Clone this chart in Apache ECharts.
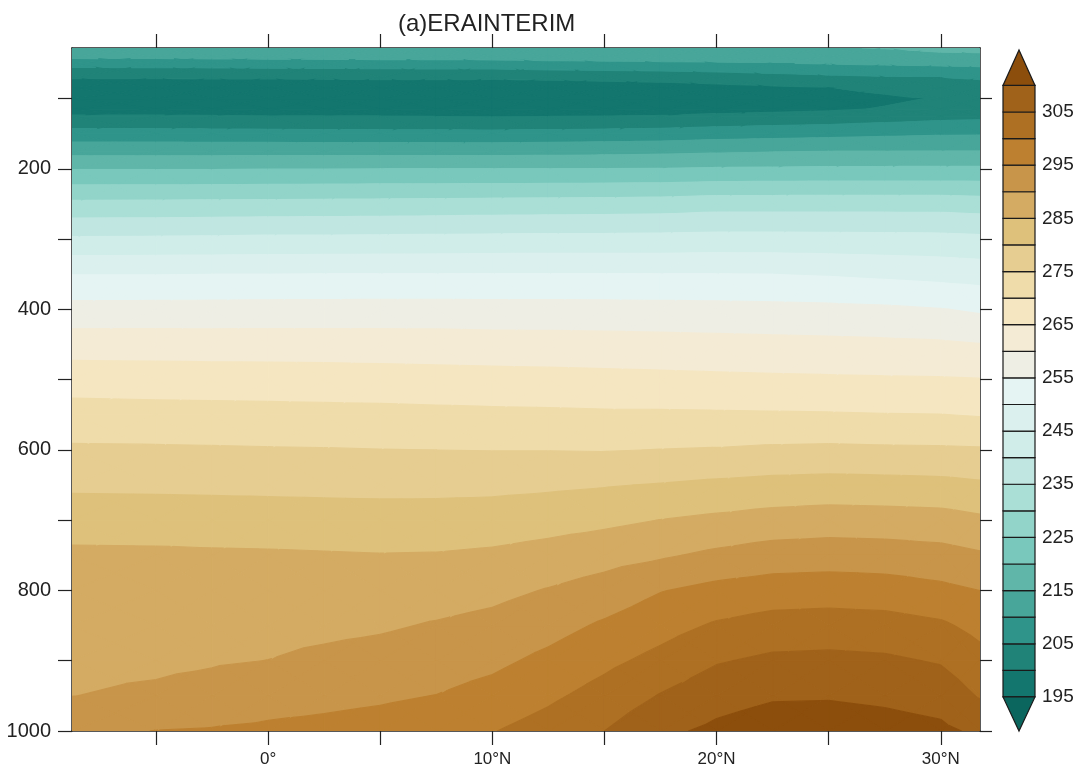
<!DOCTYPE html>
<html>
<head>
<meta charset="utf-8">
<script src="https://cdn.jsdelivr.net/npm/echarts@6/dist/echarts.min.js"></script>
<style>
html,body{margin:0;padding:0;background:#fff;}
#chart{width:1081px;height:772px;}
</style>
</head>
<body>
<div id="chart"></div>
<script>
// ---- data ----
const lats = [-8.75, -5, -2.5, 0, 2.5, 5, 7.5, 10, 12.5, 15, 17.5, 20, 22.5, 25, 27.5, 30, 31.75];
const pressureLevels = [28, 40, 50, 70, 85, 100, 115, 125, 150, 175, 200, 250, 300, 350, 400, 450, 500, 550, 600, 650, 700, 750, 800, 850, 900, 950, 1000];

const t0028 = [213.6, 213.6, 213.7, 213.8, 213.9, 214.0, 214.0, 214.1, 214.2, 214.3, 214.4, 214.6, 214.7, 214.85, 215.1, 215.6, 216.0];
const t0040 = [211.4, 211.3, 211.5, 211.7, 211.8, 212.0, 211.9, 212.1, 212.3, 212.4, 212.5, 212.9, 213.3, 213.7, 214.0, 214.4, 214.2];
const t0050 = [206.8, 207.0, 207.1, 207.3, 207.5, 207.6, 207.8, 207.9, 208.5, 208.8, 209.1, 209.3, 209.8, 210.3, 210.7, 211.1, 211.3];
const t0070 = [200.3, 200.3, 200.4, 200.4, 200.5, 200.6, 200.6, 200.6, 200.8, 201.1, 201.5, 202.1, 203.0, 203.9, 204.5, 205.0, 205.6];
const t0085 = [197.8, 197.7, 197.7, 197.6, 197.6, 197.6, 197.6, 197.5, 197.7, 197.9, 198.2, 198.6, 199.2, 199.9, 201.0, 202.0, 202.8];
const t0100 = [197.1, 197.0, 197.0, 196.9, 196.9, 196.8, 196.8, 196.7, 196.8, 197.0, 197.3, 197.6, 198.0, 198.4, 199.3, 200.3, 200.8];
const t0115 = [198.4, 198.4, 198.3, 198.2, 198.2, 198.1, 198.1, 198.0, 198.1, 198.2, 198.4, 198.5, 199.0, 199.4, 200.3, 201.3, 201.8];
const t0125 = [200.3, 200.3, 200.2, 200.0, 200.0, 200.0, 199.9, 199.8, 199.9, 200.0, 200.2, 200.8, 201.3, 201.8, 202.7, 203.5, 203.8];
const t0150 = [207.0, 206.9, 206.8, 206.7, 206.6, 206.5, 206.5, 206.4, 206.6, 206.8, 207.2, 207.8, 208.2, 208.6, 209.1, 209.5, 209.6];
const t0175 = [213.4, 213.4, 213.4, 213.4, 213.4, 213.4, 213.4, 213.4, 213.5, 213.7, 214.0, 214.4, 214.8, 215.0, 215.0, 215.1, 215.1];
const t0200 = [219.8, 219.8, 219.8, 219.9, 219.9, 220.0, 220.0, 220.0, 220.0, 220.1, 220.2, 220.5, 220.6, 220.8, 220.8, 220.8, 220.8];
const t0250 = [231.2, 231.3, 231.4, 231.5, 231.6, 231.7, 231.8, 232.0, 232.1, 232.2, 232.4, 233.0, 233.0, 233.0, 233.0, 233.0, 232.6];
const t0300 = [240.7, 240.8, 240.9, 241.1, 241.1, 241.2, 241.3, 241.4, 241.5, 241.5, 241.6, 241.8, 241.8, 241.7, 241.6, 241.5, 241.1];
const t0350 = [249.9, 249.9, 250.0, 250.0, 250.1, 250.1, 250.1, 250.2, 250.2, 250.2, 250.1, 250.1, 250.0, 249.6, 249.0, 248.4, 247.9];
const t0400 = [256.7, 256.75, 256.8, 256.9, 256.9, 257.0, 257.0, 256.9, 256.9, 256.8, 256.7, 256.6, 256.4, 256.2, 255.85, 255.2, 254.3];
const t0450 = [262.7, 262.7, 262.6, 262.6, 262.55, 262.5, 262.4, 262.2, 262.1, 262.0, 261.8, 261.6, 261.4, 261.2, 261.0, 260.7, 260.2];
const t0500 = [267.8, 267.6, 267.5, 267.4, 267.3, 267.1, 266.9, 266.75, 266.6, 266.4, 266.2, 266.0, 265.8, 265.65, 265.5, 265.4, 265.2];
const t0550 = [272.0, 271.8, 271.7, 271.6, 271.5, 271.4, 271.2, 271.0, 270.9, 270.7, 270.7, 270.6, 270.5, 270.4, 270.2, 270.1, 269.7];
const t0600 = [275.7, 275.6, 275.5, 275.35, 275.25, 275.1, 275.0, 274.9, 274.9, 274.8, 275.1, 275.35, 275.8, 276.0, 275.8, 275.7, 275.5];
const t0650 = [279.2, 279.1, 279.0, 278.9, 278.8, 278.7, 278.7, 278.8, 279.2, 279.7, 280.3, 281.0, 281.6, 281.9, 281.7, 281.4, 280.75];
const t0700 = [282.6, 282.5, 282.4, 282.3, 282.1, 282.0, 282.1, 282.4, 283.1, 283.9, 285.1, 286.0, 286.9, 287.4, 287.2, 286.9, 285.9];
const t0750 = [286.0, 285.9, 285.7, 285.6, 285.4, 285.2, 285.3, 285.8, 286.8, 288.1, 289.4, 291.0, 292.3, 292.65, 292.4, 291.7, 290.6];
const t0800 = [287.0, 287.0, 287.0, 287.1, 287.1, 287.3, 287.8, 288.7, 290.3, 292.1, 294.8, 296.5, 297.45, 297.7, 297.3, 296.15, 295.0];
const t0850 = [288.0, 288.1, 288.3, 288.6, 288.9, 289.4, 290.4, 291.4, 293.2, 295.7, 298.1, 300.6, 301.95, 302.3, 302.0, 300.8, 298.5];
const t0900 = [289.0, 289.2, 289.6, 290.05, 291.0, 291.8, 292.7, 293.9, 296.2, 298.8, 301.5, 304.6, 306.0, 306.2, 305.8, 304.6, 301.7];
const t0950 = [289.95, 290.7, 291.6, 292.97, 293.7, 294.3, 295.1, 296.7, 299.1, 301.9, 305.3, 308.2, 309.5, 309.6, 309.0, 308.0, 304.6];
const t1000 = [293.7, 295.1, 295.4, 295.9, 296.3, 296.9, 297.9, 299.8, 302.1, 305.0, 309.0, 311.0, 312.5, 312.7, 312.0, 311.0, 309.1];

const tempRows = [t0028, t0040, t0050, t0070, t0085, t0100, t0115, t0125, t0150, t0175, t0200, t0250, t0300, t0350,
  t0400, t0450, t0500, t0550, t0600, t0650, t0700, t0750, t0800, t0850, t0900, t0950, t1000];

const contourLevels = [195, 200, 205, 210, 215, 220, 225, 230, 235, 240, 245, 250, 255, 260, 265, 270, 275, 280, 285, 290, 295, 300, 305, 310];
const bandColors = ['#0b665e', '#13766e', '#208378', '#2f948a', '#48a69a', '#60b6a9', '#79c8bc', '#92d4c9', '#aadfd6',
  '#c0e6e1', '#d0ede9', '#dbf0ee', '#e5f4f3', '#eeeee4', '#f4ebd5', '#f5e6c1', '#efdcaa', '#e6cd91', '#dec17b',
  '#d4ab63', '#c8954a', '#bd8030', '#ae7023', '#a0621a', '#8c4e0c'];
const colorbarLabels = [195, 205, 215, 225, 235, 245, 255, 265, 275, 285, 295, 305];
const xTickValues = [-5, 0, 5, 10, 15, 20, 25, 30];
const xLabelValues = [0, 10, 20, 30];
const yTickValues = [100, 200, 300, 400, 500, 600, 700, 800, 900, 1000];
const yLabelValues = [200, 400, 600, 800, 1000];

// ---- helpers ----
function bandIndex(v) {
  let k = 0;
  while (k < contourLevels.length && v >= contourLevels[k]) k++;
  return k;
}
function clipPoly(poly, t, above) {
  const out = [];
  const n = poly.length;
  for (let i = 0; i < n; i++) {
    const a = poly[i], b = poly[(i + 1) % n];
    const ina = above ? a[2] >= t : a[2] <= t;
    const inb = above ? b[2] >= t : b[2] <= t;
    if (ina) out.push(a);
    if (ina !== inb) {
      const f = (t - a[2]) / (b[2] - a[2]);
      out.push([a[0] + f * (b[0] - a[0]), a[1] + f * (b[1] - a[1]), t]);
    }
  }
  return out;
}

function renderContour(params, api) {
  const children = [];
  const pt = (i, j) => {
    const c = api.coord([lats[i], pressureLevels[j]]);
    return [c[0], c[1], tempRows[j][i]];
  };
  for (let j = 0; j < pressureLevels.length - 1; j++) {
    for (let i = 0; i < lats.length - 1; i++) {
      const A = pt(i, j), B = pt(i + 1, j), C = pt(i + 1, j + 1), D = pt(i, j + 1);
      const E = [(A[0] + C[0]) / 2, (A[1] + C[1]) / 2, (A[2] + B[2] + C[2] + D[2]) / 4];
      const tris = [[A, B, E], [B, C, E], [C, D, E], [D, A, E]];
      for (const tri of tris) {
        const vs = tri.map(p => p[2]);
        const k0 = bandIndex(Math.min.apply(null, vs));
        const k1 = bandIndex(Math.max.apply(null, vs));
        for (let k = k0; k <= k1; k++) {
          let poly = tri;
          if (k > 0) poly = clipPoly(poly, contourLevels[k - 1], true);
          if (k < contourLevels.length && poly.length) poly = clipPoly(poly, contourLevels[k], false);
          if (poly.length >= 3) {
            children.push({
              type: 'polygon',
              shape: { points: poly.map(p => [p[0], p[1]]) },
              style: { fill: bandColors[k], stroke: bandColors[k], lineWidth: 1.1, lineJoin: 'round' },
              silent: true
            });
          }
        }
      }
    }
  }
  return { type: 'group', children: children };
}

function renderColorbar(params, api) {
  const children = [];
  const n = contourLevels.length;
  const lo = 188.6, hi = 316.66;
  for (let k = 1; k < n; k++) {
    const p1 = api.coord([0, contourLevels[k]]);
    const p2 = api.coord([1, contourLevels[k - 1]]);
    children.push({
      type: 'polygon',
      shape: { points: [[p1[0], p1[1]], [p2[0], p1[1]], [p2[0], p2[1]], [p1[0], p2[1]]] },
      style: { fill: bandColors[k], stroke: '#1a1a1a', lineWidth: 1.2 }
    });
  }
  const b0 = api.coord([0, contourLevels[0]]), b1 = api.coord([1, contourLevels[0]]), bA = api.coord([0.5, lo]);
  children.push({ type: 'polygon', shape: { points: [b0, b1, bA] }, style: { fill: bandColors[0], stroke: '#1a1a1a', lineWidth: 1.2 } });
  const t0 = api.coord([0, contourLevels[n - 1]]), t1 = api.coord([1, contourLevels[n - 1]]), tA = api.coord([0.5, hi]);
  children.push({ type: 'polygon', shape: { points: [t0, t1, tA] }, style: { fill: bandColors[n], stroke: '#1a1a1a', lineWidth: 1.2 } });
  return { type: 'group', children: children };
}

const FONT = "'Liberation Sans', Arial, sans-serif";
const axisCol = '#222';
function latFmt(v) { return v === 0 ? '0\u00B0' : (v > 0 ? v + '\u00B0N' : (-v) + '\u00B0S'); }
function plainFmt(v) { return String(v); }

const chart = echarts.init(document.getElementById('chart'), null, { renderer: 'canvas' });
const option = {
  animation: false,
  backgroundColor: '#ffffff',
  title: {
    text: '(a)ERAINTERIM', left: 393, top: 7,
    textStyle: { fontFamily: FONT, fontSize: 24, fontWeight: 'normal', color: '#222' }
  },
  grid: [
    { left: 72, top: 48, width: 908, height: 683 },
    { left: 1003, top: 50, width: 32, height: 681 }
  ],
  xAxis: [
    {
      gridIndex: 0, type: 'value', min: -8.75, max: 31.75, position: 'bottom',
      axisLine: { show: true, onZero: false, lineStyle: { color: axisCol, width: 1.5 } },
      axisTick: { show: true, customValues: xTickValues, length: 14, lineStyle: { color: axisCol, width: 1.2 } },
      axisLabel: { customValues: xLabelValues, formatter: latFmt, fontSize: 17, color: '#222', margin: 20, fontFamily: FONT },
      splitLine: { show: false }
    },
    {
      gridIndex: 0, type: 'value', min: -8.75, max: 31.75, position: 'top',
      axisLine: { show: true, onZero: false, lineStyle: { color: axisCol, width: 1.5 } },
      axisTick: { show: true, customValues: xTickValues, length: 14, lineStyle: { color: axisCol, width: 1.2 } },
      axisLabel: { show: false },
      splitLine: { show: false }
    },
    { gridIndex: 1, type: 'value', min: 0, max: 1, show: false }
  ],
  yAxis: [
    {
      gridIndex: 0, type: 'value', inverse: true, min: 28, max: 1000, position: 'left',
      axisLine: { show: true, onZero: false, lineStyle: { color: axisCol, width: 1.5 } },
      axisTick: { show: true, customValues: yTickValues, length: 14, lineStyle: { color: axisCol, width: 1.2 } },
      axisLabel: { customValues: yLabelValues, formatter: plainFmt, fontSize: 20, color: '#222', margin: 21, fontFamily: FONT },
      splitLine: { show: false }
    },
    {
      gridIndex: 0, type: 'value', inverse: true, min: 28, max: 1000, position: 'right',
      axisLine: { show: true, onZero: false, lineStyle: { color: axisCol, width: 1.5 } },
      axisTick: { show: true, customValues: yTickValues, length: 12, lineStyle: { color: axisCol, width: 1.2 } },
      axisLabel: { show: false },
      splitLine: { show: false }
    },
    {
      gridIndex: 1, type: 'value', min: 188.6, max: 316.66, position: 'right',
      axisLine: { show: false }, axisTick: { show: false },
      axisLabel: { customValues: colorbarLabels, formatter: plainFmt, fontSize: 19, color: '#222', margin: 7, fontFamily: FONT },
      splitLine: { show: false }
    }
  ],
  series: [
    {
      type: 'custom', xAxisIndex: 0, yAxisIndex: 0, clip: true, silent: true,
      data: [[0, 500]], encode: { x: 0, y: 1 },
      renderItem: renderContour, z: 1
    },
    {
      type: 'custom', xAxisIndex: 2, yAxisIndex: 2, silent: true,
      data: [[0.5, 250]], encode: { x: 0, y: 1 },
      renderItem: renderColorbar, z: 1
    }
  ]
};
chart.setOption(option);
</script>
</body>
</html>
